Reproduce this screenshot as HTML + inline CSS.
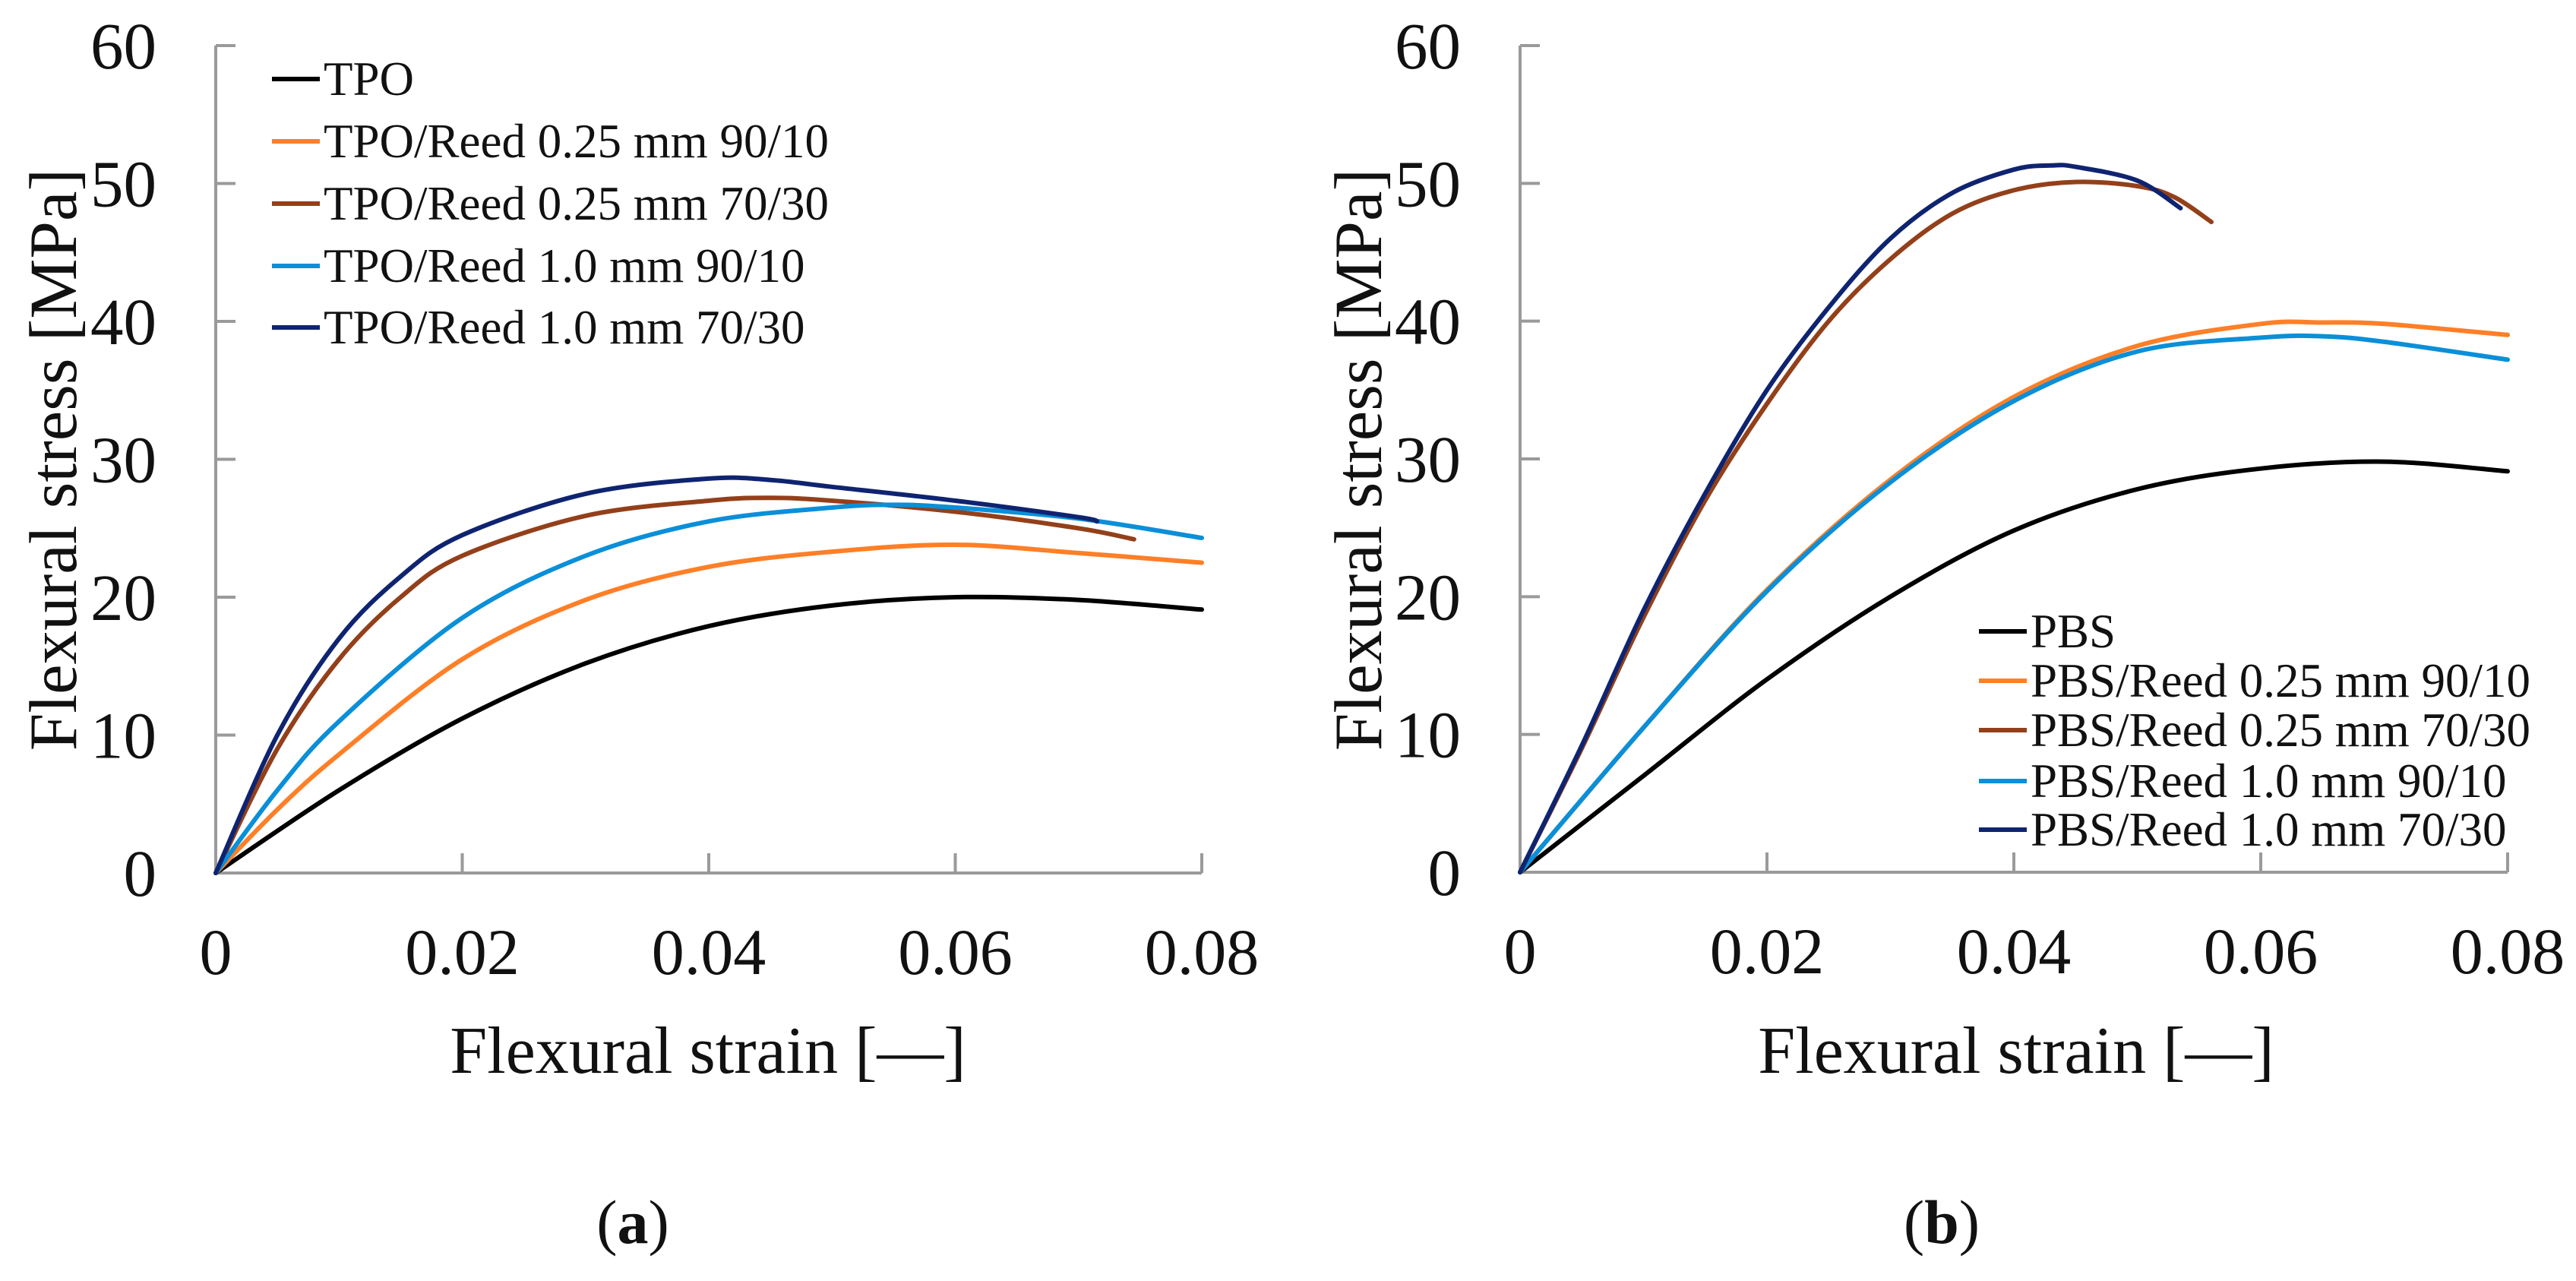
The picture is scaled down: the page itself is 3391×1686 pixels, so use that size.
<!DOCTYPE html>
<html><head><meta charset="utf-8"><style>
html,body{margin:0;padding:0;background:#fff;}
svg{display:block;}
text{font-family:"Liberation Serif",serif;fill:#111;}
</style></head><body>
<svg id="fig" width="3391" height="1686" viewBox="0 0 3391 1686" xmlns="http://www.w3.org/2000/svg">
<g id="pa"></g>
<g id="pb"></g>
</svg>
<script>
const xTicks = [0, 0.02, 0.04, 0.06, 0.08];
const xTickLabels = ["0", "0.02", "0.04", "0.06", "0.08"];
const yTicks = [0, 10, 20, 30, 40, 50, 60];
const yTickLabels = ["0", "10", "20", "30", "40", "50", "60"];

const aNames = ["TPO", "TPO/Reed 0.25 mm 90/10", "TPO/Reed 0.25 mm 70/30", "TPO/Reed 1.0 mm 90/10", "TPO/Reed 1.0 mm 70/30"];
const aTPOx = [0, 0.01, 0.02, 0.03, 0.04, 0.05, 0.06, 0.07, 0.08];
const aTPOy = [0, 6.0, 11.2, 15.2, 17.9, 19.4, 20.0, 19.8, 19.1];
const aR25_9x = [0, 0.005, 0.01, 0.02, 0.03, 0.04, 0.05, 0.06, 0.07, 0.08];
const aR25_9y = [0, 4.6, 8.6, 15.5, 19.8, 22.2, 23.3, 23.8, 23.2, 22.5];
const aR25_7x = [0, 0.005, 0.01, 0.015, 0.02, 0.03, 0.04, 0.045, 0.05, 0.06, 0.07, 0.0745];
const aR25_7y = [0, 9.0, 15.5, 20.0, 23.0, 25.9, 27.0, 27.2, 27.0, 26.2, 25.0, 24.2];
const aR10_9x = [0, 0.005, 0.01, 0.02, 0.03, 0.04, 0.05, 0.055, 0.06, 0.07, 0.08];
const aR10_9y = [0, 6.0, 11.0, 18.5, 23.0, 25.5, 26.5, 26.7, 26.5, 25.7, 24.3];
const aR10_7x = [0, 0.005, 0.01, 0.015, 0.02, 0.03, 0.04, 0.045, 0.05, 0.06, 0.07, 0.0715];
const aR10_7y = [0, 10.0, 17.0, 21.5, 24.5, 27.5, 28.6, 28.5, 28.0, 27.0, 25.8, 25.5];

const bNames = ["PBS", "PBS/Reed 0.25 mm 90/10", "PBS/Reed 0.25 mm 70/30", "PBS/Reed 1.0 mm 90/10", "PBS/Reed 1.0 mm 70/30"];
const bPBSx = [0, 0.01, 0.02, 0.03, 0.04, 0.05, 0.06, 0.07, 0.08];
const bPBSy = [0, 7.0, 14.0, 20.0, 24.8, 27.8, 29.3, 29.8, 29.1];
const bR25_9x = [0, 0.01, 0.02, 0.03, 0.04, 0.05, 0.06, 0.065, 0.07, 0.08];
const bR25_9y = [0, 10.5, 20.5, 28.5, 34.5, 38.2, 39.8, 39.9, 39.8, 39.0];
const bR25_7x = [0, 0.005, 0.01, 0.015, 0.02, 0.025, 0.03, 0.035, 0.04, 0.045, 0.05, 0.053, 0.056];
const bR25_7y = [0, 9.0, 18.5, 27.0, 34.0, 40.0, 44.5, 47.8, 49.5, 50.1, 49.8, 49.0, 47.2];
const bR10_9x = [0, 0.01, 0.02, 0.03, 0.04, 0.05, 0.06, 0.065, 0.07, 0.08];
const bR10_9y = [0, 10.5, 20.4, 28.3, 34.2, 37.8, 38.8, 38.9, 38.5, 37.2];
const bR10_7x = [0, 0.005, 0.01, 0.015, 0.02, 0.025, 0.03, 0.035, 0.04, 0.043, 0.045, 0.05, 0.0535];
const bR10_7y = [0, 9.2, 19.0, 27.5, 35.0, 41.0, 46.0, 49.3, 51.0, 51.3, 51.2, 50.2, 48.2];

const colors = ["#000000", "#ff7f27", "#93401a", "#0a8fd8", "#0f2470"];
const NS = "http://www.w3.org/2000/svg";

function mk(tag, attrs, parent) {
  const e = document.createElementNS(NS, tag);
  for (const k in attrs) e.setAttribute(k, attrs[k]);
  parent.appendChild(e);
  return e;
}

function smoothPath(pts) {
  let d = "M" + pts[0][0].toFixed(1) + "," + pts[0][1].toFixed(1);
  for (let i = 0; i < pts.length - 1; i++) {
    const p0 = pts[i - 1] || pts[i], p1 = pts[i], p2 = pts[i + 1], p3 = pts[i + 2] || p2;
    const c1 = [p1[0] + (p2[0] - p0[0]) / 6, p1[1] + (p2[1] - p0[1]) / 6];
    const c2 = [p2[0] - (p3[0] - p1[0]) / 6, p2[1] - (p3[1] - p1[1]) / 6];
    d += " C" + c1[0].toFixed(1) + "," + c1[1].toFixed(1) + " " + c2[0].toFixed(1) + "," + c2[1].toFixed(1) + " " + p2[0].toFixed(1) + "," + p2[1].toFixed(1);
  }
  return d;
}

function panel(g, cfg) {
  const sx = v => cfg.x0 + (v / 0.08) * (cfg.x1 - cfg.x0);
  const sy = v => cfg.y0 - (v / 60) * (cfg.y0 - cfg.y1);
  const ax = mk("path", {d: "M" + cfg.x0 + "," + sy(60) + " V" + cfg.y0 + " H" + cfg.x1, fill: "none", stroke: "#9a9a9a", "stroke-width": 4}, g);
  
  
  yTicks.forEach((t, i) => {
    const y = sy(t);
    if (t > 0) {
      const tk = mk("line", {x1: cfg.x0, x2: cfg.x0 + 26, y1: y, y2: y, stroke: "#9a9a9a", "stroke-width": 4}, g);
      
      
    }
    const tl = mk("text", {x: cfg.x0 - 78, y: y + 30, "text-anchor": "end", "font-size": 87}, g);
    tl.textContent = yTickLabels[i];
    
    
  });
  xTicks.forEach((t, i) => {
    const x = sx(t);
    if (t > 0) {
      const tk = mk("line", {x1: x, x2: x, y1: cfg.y0, y2: cfg.y0 - 26, stroke: "#9a9a9a", "stroke-width": 4}, g);
      
      
    }
    const tl = mk("text", {x: x, y: cfg.y0 + 133, "text-anchor": "middle", "font-size": 86}, g);
    tl.textContent = xTickLabels[i];
    
    
  });
  cfg.series.forEach((s, i) => {
    const pts = s[0].map((v, j) => [sx(v), sy(s[1][j])]);
    const p = mk("path", {d: smoothPath(pts), fill: "none", stroke: colors[i], "stroke-width": 6, "stroke-linejoin": "round", "stroke-linecap": "round"}, g);
    
    
  });
  cfg.names.forEach((n, i) => {
    const y = cfg.legY[i];
    const ln = mk("line", {x1: cfg.legX, x2: cfg.legX + 63, y1: y, y2: y, stroke: colors[i], "stroke-width": 6}, g);
    
    
    const t = mk("text", {x: cfg.legX + 68, y: y + 21, "font-size": 63}, g);
    t.textContent = n;
    
    
  });
  const xt = mk("text", {x: cfg.xTitleX, y: 1412, "text-anchor": "middle", "font-size": 88}, g);
  xt.textContent = "Flexural strain [\u2014]";
  
  
  const yt = mk("text", {x: 0, y: 0, "text-anchor": "middle", "font-size": 89, transform: "translate(" + cfg.yTitleX + ",605) rotate(-90)"}, g);
  yt.textContent = "Flexural stress [MPa]";
  
  
  const lab = mk("text", {x: cfg.labX, y: 1636, "text-anchor": "middle", "font-size": 82}, g);
  lab.innerHTML = '(<tspan font-weight="bold">' + cfg.lab + '</tspan>)';
  
  
}

panel(document.getElementById("pa"), {
  x0: 284, x1: 1582, y0: 1149, y1: 60,
  series: [[aTPOx, aTPOy], [aR25_9x, aR25_9y], [aR25_7x, aR25_7y], [aR10_9x, aR10_9y], [aR10_7x, aR10_7y]],
  names: aNames, legX: 358, legY: [104, 186, 268, 350, 431],
  xTitleX: 932, yTitleX: 100, labX: 833, lab: "a"
});
panel(document.getElementById("pb"), {
  x0: 2001, x1: 3301, y0: 1148, y1: 60,
  series: [[bPBSx, bPBSy], [bR25_9x, bR25_9y], [bR25_7x, bR25_7y], [bR10_9x, bR10_9y], [bR10_7x, bR10_7y]],
  names: bNames, legX: 2605, legY: [831, 896, 961, 1028, 1092],
  xTitleX: 2654, yTitleX: 1818, labX: 2556, lab: "b"
});
</script>
</body></html>
